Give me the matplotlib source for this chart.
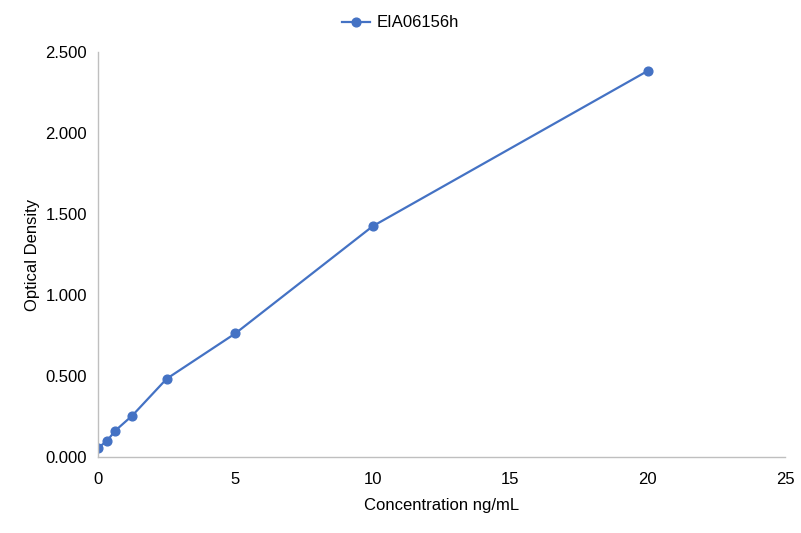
import numpy as np
import matplotlib.pyplot as plt

plt.rcParams['font.family'] = ['Liberation Sans', 'DejaVu Sans']

conc = [0, 0.3125, 0.625, 1.25, 2.5, 5, 10, 20]
od = [0.057, 0.096, 0.162, 0.256, 0.483, 0.763, 1.425, 2.383]
series_name = "EIA06156h"

fig = plt.figure(figsize=(8.01, 5.33), dpi=100)
ax = fig.add_axes([98/801, 76/533, 687/801, 405/533])

ax.plot(conc, od, color="#4472C4", marker="o", markersize=6.3, linewidth=1.6, label=series_name)

ax.set_xlim(0, 25)
ax.set_ylim(0, 2.5)
ax.set_xticks(np.arange(0, 26, 5))
ax.set_yticks(np.arange(0, 2.51, 0.5))
ax.set_yticklabels(["%.3f" % v for v in np.arange(0, 2.51, 0.5)])

for s in ["top", "right"]:
    ax.spines[s].set_visible(False)
for s in ["left", "bottom"]:
    ax.spines[s].set_color("#BFBFBF")
    ax.spines[s].set_linewidth(1)
ax.tick_params(length=0, labelsize=12, colors="#000000")
ax.tick_params(axis="y", pad=8)
ax.tick_params(axis="x", pad=11)

ax.set_xlabel("Concentration ng/mL", fontsize=12, labelpad=8)
ax.set_ylabel("Optical Density", fontsize=12, labelpad=4)

fig.legend(loc="center", bbox_to_anchor=(0.5, 1 - 23/533), frameon=False, fontsize=12,
           handlelength=1.7, handletextpad=0.4)

fig.savefig("out.png", dpi=100)
